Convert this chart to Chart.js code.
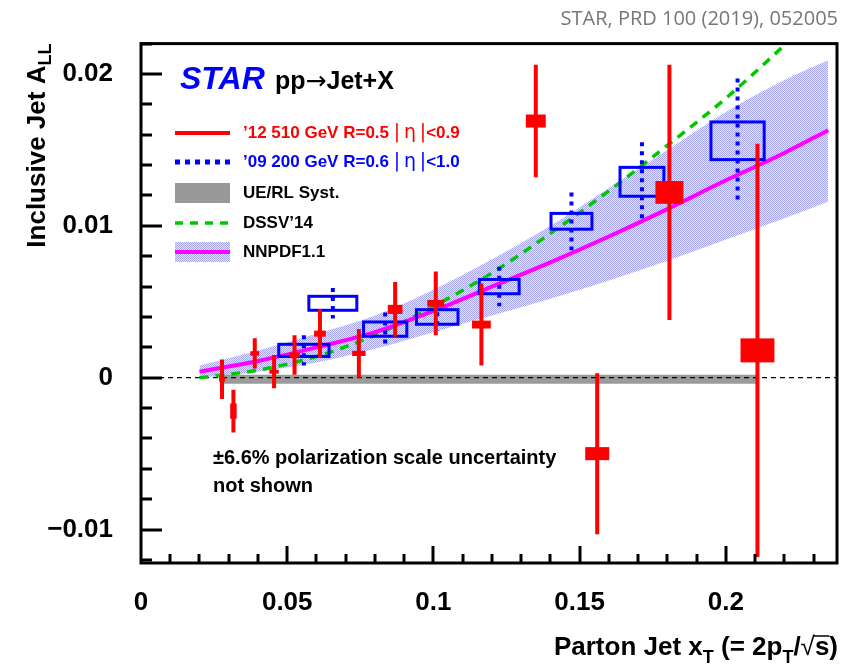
<!DOCTYPE html>
<html>
<head>
<meta charset="utf-8">
<script src="https://cdn.jsdelivr.net/npm/chart.js@4.4.1/dist/chart.umd.min.js"></script>
<style>
  html, body { margin: 0; padding: 0; background: #fff; }
  #wrap { width: 842px; height: 672px; position: relative; }
</style>
</head>
<body>
<div id="wrap"><canvas id="allChart"></canvas></div>
<script>
// Axis ticks
const xTicks = [0, 0.05, 0.1, 0.15, 0.2];
const yTicks = [-0.01, 0, 0.01, 0.02];

// '12 510 GeV, R=0.5, |eta|<0.9
const redX    = [0.0277, 0.0316, 0.0389, 0.0455, 0.0525, 0.0612, 0.0745, 0.0869, 0.1008, 0.1164, 0.1350, 0.1560, 0.1807, 0.2108];
const redY    = [-0.0001, -0.0022, 0.0016, 0.0004, 0.0015, 0.0029, 0.0016, 0.0045, 0.0049, 0.0035, 0.0169, -0.0050, 0.0122, 0.0018];
const redStat = [0.0013, 0.0014, 0.0010, 0.0011, 0.0013, 0.0016, 0.0016, 0.0018, 0.0021, 0.0027, 0.0037, 0.0053, 0.0084, 0.0136];
const redSysX = [0.0010, 0.0011, 0.0015, 0.0016, 0.0018, 0.0020, 0.0023, 0.0025, 0.0029, 0.0032, 0.0034, 0.0041, 0.0048, 0.0058];
const redSysY = [0.00016, 0.0005, 0.00015, 0.00013, 0.00016, 0.0002, 0.00017, 0.0003, 0.00022, 0.00026, 0.00043, 0.00043, 0.00075, 0.00079];

// '09 200 GeV, R=0.6, |eta|<1.0
const blueX    = [0.0557, 0.0656, 0.0835, 0.1013, 0.1225, 0.1472, 0.1713, 0.2040];
const blueY    = [0.0018, 0.0049, 0.0032, 0.0040, 0.0060, 0.0103, 0.0129, 0.0156];
const blueStat = [0.0010, 0.0010, 0.0011, 0.0009, 0.0013, 0.0019, 0.0026, 0.0041];
const blueSysX = [0.0086, 0.0082, 0.0074, 0.0071, 0.0068, 0.0070, 0.0075, 0.0091];
const blueSysY = [0.0004, 0.00046, 0.00047, 0.00048, 0.00047, 0.00052, 0.00095, 0.00124];

// UE/RL systematic band
const ueX  = [0.0277, 0.2108];
const ueLo = [-0.0004, -0.0004];
const ueHi = [0.0002, 0.0002];

// theory curves
const theoryX = [0.02, 0.04, 0.06, 0.08, 0.10, 0.12, 0.14, 0.16, 0.18, 0.20, 0.22, 0.235];
const dssv    = [0.0000, 0.0005, 0.0014, 0.0028, 0.0047, 0.0069, 0.0095, 0.0123, 0.0153, 0.0184, 0.0219, 0.0247];
const nnpdf   = [0.0004, 0.0011, 0.0020, 0.0030, 0.0044, 0.0060, 0.0076, 0.0093, 0.0111, 0.0130, 0.0148, 0.0163];
const nnpdfLo = [0.0000, 0.0004, 0.0010, 0.0019, 0.0030, 0.0041, 0.0052, 0.0064, 0.0077, 0.0091, 0.0105, 0.0116];
const nnpdfHi = [0.0008, 0.0018, 0.0029, 0.0041, 0.0058, 0.0078, 0.0100, 0.0125, 0.0150, 0.0175, 0.0196, 0.0209];

const X_MIN = 0, X_MAX = 0.238, Y_MIN = -0.0122, Y_MAX = 0.0220;
const FONT = "'Liberation Sans', Arial, Helvetica, sans-serif";
const RED = '#ff0000', BLUE = '#0000ff', GREEN = '#00c800', MAGENTA = '#ff00ff';

function pts(xs, ys) {
    return xs.map((v, i) => ({ x: v, y: ys[i] }));
}

// fine dotted fill for the NNPDF uncertainty band
function makeHatch() {
    const c = document.createElement('canvas');
    c.width = 2; c.height = 2;
    const g = c.getContext('2d');
    g.fillStyle = 'rgb(228,228,252)';
    g.fillRect(0, 0, 2, 2);
    g.fillStyle = 'rgb(165,165,238)';
    g.fillRect(0, 0, 1, 1);
    g.fillRect(1, 1, 1, 1);
    return g.createPattern(c, 'repeat');
}
const hatch = makeHatch();

// draws a run of text pieces (fonts / offsets), returns the end x
function subText(ctx, parts, x, y) {
    parts.forEach(p => {
        ctx.font = p.font;
        ctx.fillText(p.t, x, y + (p.dy || 0));
        x += ctx.measureText(p.t).width;
    });
    return x;
}
function partsWidth(ctx, parts) {
    let w = 0;
    parts.forEach(p => { ctx.font = p.font; w += ctx.measureText(p.t).width; });
    return w;
}

const marksPlugin = {
    id: 'marks',
    afterDatasetsDraw(chart) {
        const { ctx, chartArea: a, scales: { x, y } } = chart;
        ctx.save();
        ctx.beginPath();
        ctx.rect(a.left, a.top, a.right - a.left, a.bottom - a.top);
        ctx.clip();

        // '09 points: open syst boxes + dotted stat bars
        ctx.strokeStyle = BLUE;
        ctx.lineWidth = 3;
        blueX.forEach((vx, i) => {
            const l = x.getPixelForValue(vx - blueSysX[i]);
            const r = x.getPixelForValue(vx + blueSysX[i]);
            const t = y.getPixelForValue(blueY[i] + blueSysY[i]);
            const b = y.getPixelForValue(blueY[i] - blueSysY[i]);
            ctx.strokeRect(l, t, r - l, b - t);
        });
        ctx.lineWidth = 4;
        ctx.setLineDash([4, 5]);
        blueX.forEach((vx, i) => {
            const px = x.getPixelForValue(vx);
            ctx.beginPath();
            ctx.moveTo(px, y.getPixelForValue(blueY[i] + blueStat[i]));
            ctx.lineTo(px, y.getPixelForValue(blueY[i] - blueStat[i]));
            ctx.stroke();
        });
        ctx.setLineDash([]);

        // '12 points: solid stat bars + filled syst boxes
        ctx.strokeStyle = RED;
        ctx.fillStyle = RED;
        ctx.lineWidth = 4;
        redX.forEach((vx, i) => {
            const px = x.getPixelForValue(vx);
            ctx.beginPath();
            ctx.moveTo(px, y.getPixelForValue(redY[i] + redStat[i]));
            ctx.lineTo(px, y.getPixelForValue(redY[i] - redStat[i]));
            ctx.stroke();
            const l = x.getPixelForValue(vx - redSysX[i]);
            const r = x.getPixelForValue(vx + redSysX[i]);
            const t = y.getPixelForValue(redY[i] + redSysY[i]);
            const b = y.getPixelForValue(redY[i] - redSysY[i]);
            ctx.fillRect(l, t, r - l, Math.max(b - t, 4));
        });
        ctx.restore();
    },
    afterDraw(chart) {
        const { ctx, chartArea: a, scales: { x, y } } = chart;
        ctx.save();

        // frame
        ctx.strokeStyle = '#000';
        ctx.lineWidth = 3;
        ctx.strokeRect(a.left, a.top, a.right - a.left, a.bottom - a.top);

        // inward ticks, left and bottom only
        ctx.beginPath();
        for (let k = -6; k <= 11; k++) {
            const py = Math.round(y.getPixelForValue(k * 0.002));
            const len = (k % 5 === 0) ? 21 : 11;
            ctx.moveTo(a.left, py);
            ctx.lineTo(a.left + len, py);
        }
        for (let k = 1; k <= 23; k++) {
            const px = Math.round(x.getPixelForValue(k * 0.01));
            const len = (k % 5 === 0) ? 17 : 9;
            ctx.moveTo(px, a.bottom);
            ctx.lineTo(px, a.bottom - len);
        }
        ctx.stroke();

        // axis titles
        ctx.fillStyle = '#000';
        ctx.textBaseline = 'alphabetic';
        ctx.textAlign = 'left';
        const big = 'bold 26px ' + FONT, sub = 'bold 18px ' + FONT;
        const yTitle = [{ t: 'Inclusive Jet A', font: big }, { t: 'LL', font: sub, dy: 6 }];
        ctx.save();
        ctx.translate(45, a.top);
        ctx.rotate(-Math.PI / 2);
        subText(ctx, yTitle, -partsWidth(ctx, yTitle), 0);
        ctx.restore();

        const xTitle = [
            { t: 'Parton Jet x', font: big }, { t: 'T', font: sub, dy: 8 },
            { t: ' (= 2p', font: big }, { t: 'T', font: sub, dy: 8 },
            { t: '/', font: big }, { t: '\u221A', font: '26px ' + FONT }, { t: 's', font: big }, { t: ')', font: big }
        ];
        subText(ctx, xTitle, 838 - partsWidth(ctx, xTitle), 655);
        // overline of the root
        ctx.font = big;
        const wS = ctx.measureText('s').width, wP = ctx.measureText(')').width;
        ctx.lineWidth = 1.5;
        ctx.beginPath();
        ctx.moveTo(838 - wP - wS - 1, 636);
        ctx.lineTo(838 - wP, 636);
        ctx.stroke();

        // reference header
        ctx.font = "20px 'Open Sans', 'Noto Sans', sans-serif";
        ctx.fillStyle = '#777';
        ctx.textAlign = 'right';
        ctx.fillText('STAR, PRD 100 (2019), 052005', 838, 25);

        // title inside frame
        ctx.textAlign = 'left';
        ctx.fillStyle = BLUE;
        ctx.font = 'italic bold 32px ' + FONT;
        ctx.fillText('STAR', 180, 89);
        ctx.fillStyle = '#000';
        subText(ctx, [
            { t: 'pp', font: 'bold 25px ' + FONT },
            { t: '\u2192', font: "25px 'DejaVu Sans', sans-serif" },
            { t: 'Jet+X', font: 'bold 25px ' + FONT }
        ], 275, 89);

        // legend
        const lx0 = 175, lx1 = 230, tx = 243;
        ctx.lineWidth = 4;
        ctx.strokeStyle = RED;
        ctx.beginPath(); ctx.moveTo(lx0, 133); ctx.lineTo(lx1, 133); ctx.stroke();
        ctx.strokeStyle = BLUE;
        ctx.lineWidth = 5;
        ctx.setLineDash([5, 5]);
        ctx.beginPath(); ctx.moveTo(lx0, 162); ctx.lineTo(lx1, 162); ctx.stroke();
        ctx.strokeStyle = GREEN;
        ctx.lineWidth = 3.5;
        ctx.setLineDash([8, 7]);
        ctx.beginPath(); ctx.moveTo(lx0, 223); ctx.lineTo(lx1, 223); ctx.stroke();
        ctx.setLineDash([]);
        ctx.fillStyle = '#999';
        ctx.fillRect(lx0, 183, lx1 - lx0, 20);
        ctx.fillStyle = hatch;
        ctx.fillRect(lx0, 242, lx1 - lx0, 20);
        ctx.strokeStyle = MAGENTA;
        ctx.lineWidth = 4;
        ctx.beginPath(); ctx.moveTo(lx0, 252); ctx.lineTo(lx1, 252); ctx.stroke();

        const lf = 'bold 17px ' + FONT, lfn = "19px 'DejaVu Sans', sans-serif";
        ctx.textBaseline = 'middle';
        ctx.fillStyle = RED;
        subText(ctx, [{ t: '\u201912 510 GeV R=0.5 ', font: lf }, { t: '|\u2009\u03B7\u2009|', font: lfn }, { t: '<0.9', font: lf }], tx, 133);
        ctx.fillStyle = BLUE;
        subText(ctx, [{ t: '\u201909 200 GeV R=0.6 ', font: lf }, { t: '|\u2009\u03B7\u2009|', font: lfn }, { t: '<1.0', font: lf }], tx, 162);
        ctx.fillStyle = '#000';
        ctx.font = lf;
        ctx.fillText('UE/RL Syst.', tx, 193);
        ctx.fillText('DSSV\u201914', tx, 223);
        ctx.fillText('NNPDF1.1', tx, 252);

        // note
        ctx.font = 'bold 20px ' + FONT;
        ctx.fillText('\u00B16.6% polarization scale uncertainty', 213, 458);
        ctx.fillText('not shown', 213, 486);
        ctx.restore();
    }
};

const ctx = document.getElementById('allChart').getContext('2d');
new Chart(ctx, {
    type: 'scatter',
    data: {
        datasets: [
            {   // NNPDF1.1 central curve
                data: pts(theoryX, nnpdf), showLine: true, borderColor: MAGENTA, borderWidth: 4,
                pointRadius: 0, cubicInterpolationMode: 'monotone', order: 1
            },
            {   // DSSV'14
                data: pts(theoryX, dssv), showLine: true, borderColor: GREEN, borderWidth: 3.5,
                borderDash: [9, 7], pointRadius: 0, cubicInterpolationMode: 'monotone', order: 2
            },
            {   // zero line
                data: [{ x: X_MIN, y: 0 }, { x: X_MAX, y: 0 }], showLine: true, borderColor: '#000',
                borderWidth: 1.2, borderDash: [5, 4], pointRadius: 0, order: 3
            },
            {   // UE/RL band lower edge
                data: pts(ueX, ueLo), showLine: true, borderWidth: 0, borderColor: 'rgba(0,0,0,0)',
                pointRadius: 0, order: 5
            },
            {   // UE/RL band upper edge
                data: pts(ueX, ueHi), showLine: true, borderWidth: 0, borderColor: 'rgba(0,0,0,0)',
                backgroundColor: '#9a9a9a', fill: '-1', pointRadius: 0, order: 4
            },
            {   // NNPDF band lower edge
                data: pts(theoryX, nnpdfLo), showLine: true, borderWidth: 0, borderColor: 'rgba(0,0,0,0)',
                pointRadius: 0, cubicInterpolationMode: 'monotone', order: 7
            },
            {   // NNPDF band upper edge
                data: pts(theoryX, nnpdfHi), showLine: true, borderWidth: 0, borderColor: 'rgba(0,0,0,0)',
                backgroundColor: hatch, fill: '-1', pointRadius: 0, cubicInterpolationMode: 'monotone', order: 6
            }
        ]
    },
    options: {
        responsive: true,
        maintainAspectRatio: false,
        animation: false,
        devicePixelRatio: 1,
        layout: { padding: { left: 0, right: 5, top: 41, bottom: 0 } },
        plugins: { legend: { display: false }, tooltip: { enabled: false } },
        scales: {
            x: {
                type: 'linear', min: X_MIN, max: X_MAX,
                afterBuildTicks: s => { s.ticks = xTicks.map(v => ({ value: v })); },
                afterFit: s => { s.height = 672 - 563; },
                grid: { display: false, drawTicks: false },
                border: { display: false },
                ticks: {
                    padding: 24, maxRotation: 0, autoSkip: false, color: '#000',
                    font: { family: FONT, size: 26, weight: 'bold' },
                    callback: v => String(v)
                }
            },
            y: {
                type: 'linear', min: Y_MIN, max: Y_MAX,
                afterBuildTicks: s => { s.ticks = yTicks.map(v => ({ value: v })); },
                afterFit: s => { s.width = 141; },
                grid: { display: false, drawTicks: false },
                border: { display: false },
                ticks: {
                    padding: 28, autoSkip: false, color: '#000',
                    font: { family: FONT, size: 26, weight: 'bold' },
                    callback: v => v < 0 ? '\u2212' + String(-v) : String(v)
                }
            }
        }
    },
    plugins: [marksPlugin]
});
</script>
</body>
</html>
